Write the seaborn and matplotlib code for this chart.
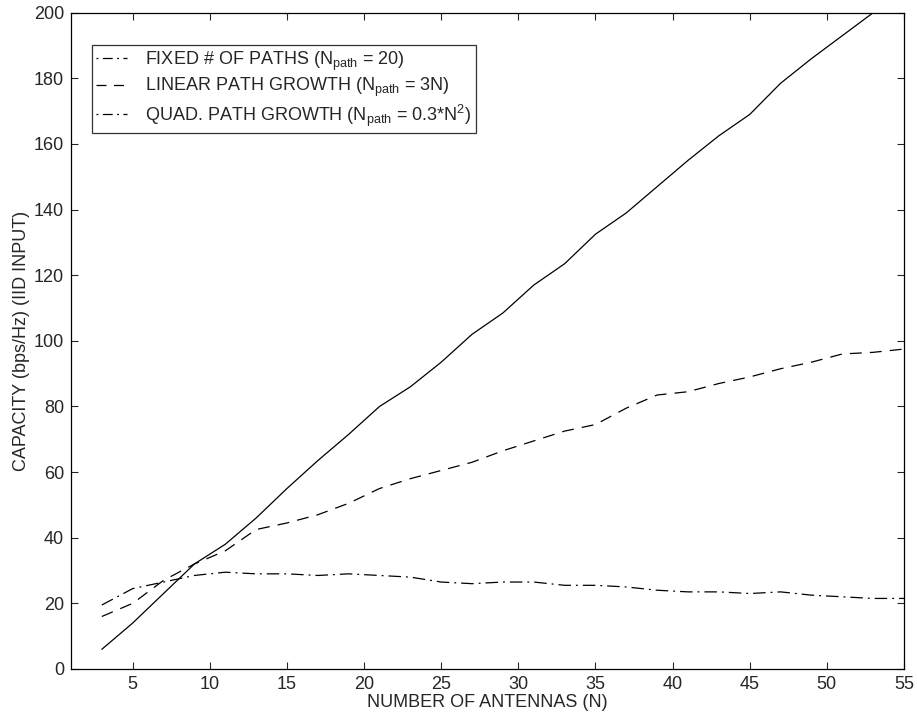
import numpy as np
import pandas as pd
import seaborn as sns
import matplotlib.pyplot as plt
from matplotlib.lines import Line2D

# number of antennas
n_antennas = [3, 5, 7, 9, 11, 13, 15, 17, 19, 21, 23, 25, 27, 29, 31, 33, 35,
              37, 39, 41, 43, 45, 47, 49, 51, 53, 55]

# capacity (bps/Hz)
fixed_paths = [19.5, 24.5, 26.5, 28.5, 29.5, 29, 29, 28.5, 29, 28.5, 28, 26.5,
               26, 26.5, 26.5, 25.5, 25.5, 25, 24, 23.5, 23.5, 23, 23.5, 22.5,
               22, 21.5, 21.5]
linear_growth = [16, 20, 27, 32, 36, 42.5, 44.5, 47, 50.5, 55, 58, 60.5, 63,
                 66.5, 69.5, 72.5, 74.5, 79.5, 83.5, 84.5, 87, 89, 91.5, 93.5,
                 96, 96.5, 97.5]
quad_growth = [6, 14, 23, 32, 38, 46, 55, 63.5, 71.5, 80, 86, 93.5, 102, 108.5,
               117, 123.5, 132.5, 139, 147, 155, 162.5, 169, 178.5, 186, 193,
               200, 207]

labels = [r"FIXED # OF PATHS (N$_{path}$ = 20)",
          r"LINEAR PATH GROWTH (N$_{path}$ = 3N)",
          r"QUAD. PATH GROWTH (N$_{path}$ = 0.3*N$^2$)"]

df = pd.DataFrame({"N": n_antennas, "fixed": fixed_paths,
                   "linear": linear_growth, "quad": quad_growth})

sns.set_style("ticks")
plt.rcParams["font.family"] = ["Liberation Sans", "DejaVu Sans"]
plt.rcParams["mathtext.default"] = "regular"

fig = plt.figure(figsize=(9.17, 7.23), dpi=100)
ax = fig.add_axes([0.0774, 0.0747, 0.9084, 0.9077])

dashdot = (0, (10, 4, 1.5, 4))
dashed = (0, (9.5, 6.5))
lw = 0.9
sns.lineplot(data=df, x="N", y="fixed", ax=ax, color="black", lw=lw, linestyle=dashdot)
sns.lineplot(data=df, x="N", y="linear", ax=ax, color="black", lw=lw, linestyle=dashed)
sns.lineplot(data=df, x="N", y="quad", ax=ax, color="black", lw=lw, linestyle="-")

ax.set_xlim(1, 55)
ax.set_ylim(0, 200)
ax.set_xticks(np.arange(5, 56, 5))
ax.set_yticks(np.arange(0, 201, 20))
ax.tick_params(direction="in", top=True, right=True, length=5, width=0.8,
               labelsize=13, pad=5)
for s in ax.spines.values():
    s.set_linewidth(0.9)
    s.set_color("black")
ax.set_xlabel("NUMBER OF ANTENNAS (N)", fontsize=13, labelpad=1)
ax.set_ylabel("CAPACITY (bps/Hz) (IID INPUT)", fontsize=13, labelpad=3)

# legend glyphs as printed in the reference
leg_dashdot = (0, (1.5, 3.5, 8, 3.5))
handles = [Line2D([], [], color="black", lw=lw, linestyle=leg_dashdot),
           Line2D([], [], color="black", lw=lw, linestyle=(0, (8, 6))),
           Line2D([], [], color="black", lw=lw, linestyle=leg_dashdot)]
leg = ax.legend(handles, labels, loc="upper left", bbox_to_anchor=(0.025, 0.951),
                fontsize=13, frameon=True, fancybox=False, handlelength=1.7,
                handletextpad=1.0, labelspacing=0.18, borderpad=0.25,
                borderaxespad=0)
leg.get_frame().set_edgecolor("black")
leg.get_frame().set_linewidth(0.9)

fig.savefig("out.png", dpi=100)
